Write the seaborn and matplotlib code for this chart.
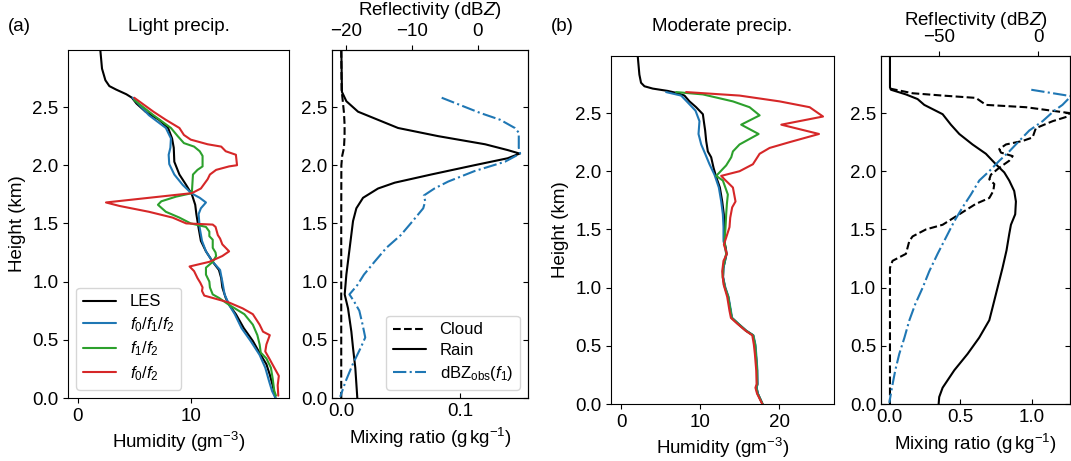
import matplotlib
matplotlib.use("Agg")
import matplotlib.pyplot as plt
import seaborn as sns

# ---------------- (a) light precip : humidity ----------------
les_a_h = [2.99, 2.83, 2.73, 2.68, 2.65, 2.61, 2.58, 2.53, 2.46, 2.39, 2.32, 2.23, 2.15, 2.03, 1.92, 1.83,
           1.75, 1.66, 1.58, 1.46, 1.35, 1.26, 1.17, 1.10, 1.03, 0.95, 0.86, 0.80, 0.72, 0.60, 0.49, 0.37,
           0.29, 0.20, 0.11, 0.0]
les_a_q = [2.0, 2.15, 2.45, 2.8, 3.4, 4.3, 4.8, 5.2, 6.0, 7.2, 8.0, 8.35, 8.5, 8.55, 9.0, 9.6,
           10.1, 10.4, 10.5, 10.7, 10.9, 11.35, 11.95, 12.5, 12.7, 12.8, 13.1, 13.4, 14.0, 14.7, 15.5, 16.2,
           16.7, 17.0, 17.25, 17.5]

f012_a_h = [2.58, 2.43, 2.32, 2.23, 2.15, 2.09, 2.01, 1.92, 1.83, 1.76, 1.72, 1.68, 1.63, 1.58, 1.46, 1.35,
            1.26, 1.17, 1.10, 1.00, 0.89, 0.80, 0.72, 0.60, 0.49, 0.37, 0.26, 0.14, 0.06, 0.0]
f012_a_q = [4.86, 6.3, 7.8, 8.25, 8.2, 8.05, 8.1, 8.55, 9.3, 10.05, 10.8, 11.35, 10.9, 10.7, 10.8, 11.0,
            11.35, 11.95, 12.6, 12.8, 13.0, 13.4, 13.9, 14.5, 15.3, 16.1, 16.6, 16.95, 17.2, 17.5]

f12_a_h = [2.56, 2.43, 2.32, 2.25, 2.19, 2.16, 2.12, 2.08, 1.99, 1.96, 1.92, 1.76, 1.73, 1.69, 1.66, 1.60,
           1.55, 1.50, 1.47, 1.43, 1.39, 1.36, 1.29, 1.25, 1.22, 1.17, 1.12, 1.06, 1.00, 0.95, 0.89, 0.86,
           0.80, 0.72, 0.63, 0.54, 0.46, 0.39, 0.34, 0.26, 0.17, 0.06, 0.02]
f12_a_q = [5.0, 6.7, 8.25, 8.85, 9.4, 10.3, 10.8, 11.05, 11.05, 10.6, 10.2, 10.1, 8.7, 7.4, 7.1, 7.8,
           9.0, 10.0, 11.35, 11.65, 11.65, 11.95, 11.95, 12.2, 12.25, 11.95, 11.35, 11.35, 11.65, 11.7, 11.95, 12.5,
           13.4, 14.75, 15.5, 15.9, 16.1, 16.2, 16.7, 17.1, 17.25, 17.4, 17.55]

f02_a_h = [2.58, 2.46, 2.39, 2.32, 2.26, 2.22, 2.18, 2.16, 2.12, 2.09, 2.00, 1.99, 1.96, 1.92, 1.88, 1.80,
           1.76, 1.72, 1.68, 1.65, 1.60, 1.55, 1.50, 1.49, 1.47, 1.40, 1.37, 1.32, 1.26, 1.22, 1.17, 1.13,
           1.09, 1.03, 0.99, 0.95, 0.92, 0.88, 0.82, 0.77, 0.72, 0.63, 0.57, 0.54, 0.46, 0.40, 0.34, 0.26,
           0.19, 0.11, 0.02]
f02_a_q = [5.0, 6.7, 7.8, 9.0, 9.4, 10.0, 11.5, 12.7, 13.1, 14.0, 14.1, 13.4, 12.25, 11.7, 11.5, 10.9,
           10.1, 6.3, 2.5, 3.7, 6.3, 8.4, 9.6, 11.95, 12.2, 12.4, 12.6, 12.8, 13.4, 12.8, 11.65, 9.9,
           10.3, 10.6, 10.85, 11.05, 11.0, 11.2, 13.4, 14.6, 15.5, 16.1, 16.4, 17.0, 16.7, 16.6, 16.95, 17.4,
           17.8, 17.7, 17.75]

# ---------------- (a) light precip : mixing ratio / reflectivity ----------------
cloud_a_h = [2.99, 2.65, 2.55, 2.45, 2.35, 2.25, 2.15, 2.08, 2.0, 1.5, 1.0, 0.5, 0.0]
cloud_a_q = [0.0002, 0.0005, 0.0015, 0.0025, 0.003, 0.003, 0.0025, 0.001, 0.0003, 0.0002, 0.0002, 0.0002, 0.0002]

rain_a_h = [2.99, 2.63, 2.55, 2.46, 2.39, 2.32, 2.25, 2.18, 2.13, 2.10, 2.06, 2.00, 1.92, 1.85, 1.80, 1.72,
            1.63, 1.52, 1.29, 1.06, 0.89, 0.77, 0.57, 0.43, 0.26, 0.0]
rain_a_q = [0.0003, 0.0008, 0.0045, 0.0143, 0.0311, 0.0479, 0.0815, 0.121, 0.140, 0.150, 0.140, 0.112, 0.0756,
            0.0451, 0.0311, 0.0185, 0.0129, 0.0101, 0.0073, 0.0045, 0.0031, 0.0059, 0.0087, 0.0101, 0.0120, 0.0137]

dbz_a_h = [2.58, 2.45, 2.39, 2.32, 2.28, 2.15, 2.10, 2.03, 1.95, 1.86, 1.80, 1.74, 1.69, 1.63, 1.52, 1.40,
           1.29, 1.17, 1.06, 0.97, 0.89, 0.83, 0.75, 0.63, 0.52, 0.43, 0.29, 0.14, 0.01]
dbz_a = [-5.5, 0.3, 3.4, 5.6, 6.2, 6.2, 6.4, 4.1, -0.5, -4.5, -6.6, -8.2, -8.0, -8.3, -9.9, -11.7,
         -13.9, -15.7, -17.3, -18.3, -19.5, -18.8, -18.0, -17.5, -17.1, -17.8, -19.0, -20.1, -20.9]

# ---------------- (b) moderate precip : humidity ----------------
les_b_h = [2.99, 2.83, 2.76, 2.73, 2.71, 2.69, 2.67, 2.65, 2.60, 2.55, 2.49, 2.43, 2.35, 2.26, 2.17, 2.12,
           2.03, 1.95, 1.86, 1.74, 1.63, 1.52, 1.40, 1.34, 1.29, 1.23, 1.17, 1.09, 1.00, 0.92, 0.80, 0.74,
           0.69, 0.63, 0.59, 0.51, 0.43, 0.29, 0.17, 0.14, 0.09, 0.0]
les_b_q = [2.11, 2.32, 2.53, 2.96, 4.01, 5.91, 7.18, 8.02, 8.66, 9.50, 10.35, 10.47, 10.64, 10.77, 10.98, 11.40,
           11.70, 12.04, 12.5, 12.8, 13.0, 13.05, 13.05, 13.25, 13.35, 13.15, 12.95, 12.9, 13.15, 13.55, 13.85, 14.0,
           14.8, 15.8, 16.7, 16.95, 17.05, 17.2, 17.25, 17.15, 17.3, 17.9]

f012_b_h = [2.68, 2.65, 2.59, 2.52, 2.43, 2.32, 2.23, 2.15, 2.06, 1.97, 1.86, 1.74, 1.63, 1.52, 1.40, 1.34,
            1.29, 1.23, 1.17, 1.09, 1.00, 0.92, 0.80, 0.74, 0.69, 0.63, 0.59, 0.51, 0.43, 0.29, 0.17, 0.14,
            0.09, 0.0]
f012_b_q = [5.70, 7.60, 8.45, 9.42, 9.92, 9.80, 10.14, 10.64, 11.19, 11.82, 12.37, 12.67, 12.88, 12.96, 12.96, 13.2,
            13.3, 13.15, 12.95, 12.9, 13.2, 13.6, 13.9, 14.05, 14.85, 15.85, 16.75, 17.0, 17.1, 17.25, 17.25, 17.15,
            17.3, 17.9]

f12_b_h = [2.68, 2.66, 2.60, 2.55, 2.48, 2.40, 2.32, 2.23, 2.17, 2.12, 2.05, 1.96, 1.92, 1.80, 1.72, 1.63,
           1.52, 1.40, 1.34, 1.29, 1.23, 1.17, 1.09, 1.00, 0.92, 0.80, 0.74, 0.69, 0.63, 0.59, 0.51, 0.43,
           0.29, 0.17, 0.14, 0.09, 0.0]
f12_b_q = [6.97, 10.35, 14.15, 16.26, 17.53, 15.20, 17.40, 14.99, 14.15, 13.94, 13.30, 12.04, 12.88, 13.51, 13.39, 13.30,
           13.22, 13.09, 13.2, 13.3, 13.1, 12.9, 12.85, 13.15, 13.55, 13.85, 14.0, 14.8, 15.8, 16.7, 16.95, 17.05,
           17.2, 17.2, 17.1, 17.25, 17.9]

f02_b_h = [2.68, 2.65, 2.60, 2.55, 2.47, 2.40, 2.32, 2.25, 2.20, 2.15, 2.06, 2.00, 1.96, 1.93, 1.86, 1.74,
           1.69, 1.60, 1.52, 1.43, 1.37, 1.29, 1.23, 1.14, 1.03, 0.92, 0.80, 0.74, 0.69, 0.63, 0.59, 0.51,
           0.43, 0.29, 0.17, 0.14, 0.09, 0.0]
f02_b_q = [8.23, 14.99, 20.06, 23.86, 25.55, 20.27, 25.04, 21.33, 18.79, 17.53, 16.68, 14.99, 12.67, 13.09, 14.15, 14.48,
           14.06, 13.81, 13.72, 13.30, 13.01, 13.39, 12.96, 12.80, 12.96, 13.43, 13.72, 13.9, 14.7, 15.75, 16.6, 16.8,
           16.93, 17.1, 17.15, 17.0, 17.2, 17.86]

# ---------------- (b) moderate precip : mixing ratio / reflectivity ----------------
rain_b_h = [2.99, 2.72, 2.70, 2.66, 2.62, 2.57, 2.49, 2.40, 2.32, 2.23, 2.15, 2.06, 1.99, 1.92, 1.83, 1.74,
            1.63, 1.54, 1.46, 1.32, 1.17, 1.00, 0.83, 0.72, 0.57, 0.43, 0.29, 0.14, 0.06, 0.0]
rain_b_q = [0.005, 0.005, 0.012, 0.117, 0.199, 0.246, 0.375, 0.433, 0.492, 0.585, 0.679, 0.749, 0.808, 0.843, 0.878, 0.890,
            0.885, 0.855, 0.843, 0.824, 0.796, 0.761, 0.726, 0.703, 0.632, 0.550, 0.457, 0.375, 0.351, 0.347]

cloud_b_h = [2.71, 2.67, 2.65, 2.63, 2.57, 2.55, 2.50, 2.47, 2.43, 2.37, 2.29, 2.26, 2.23, 2.19, 2.16, 2.13,
             2.09, 2.03, 1.97, 1.93, 1.89, 1.83, 1.77, 1.72, 1.63, 1.54, 1.50, 1.44, 1.40, 1.29, 1.23, 1.17, 0.0]
cloud_b_q = [0.005, 0.164, 0.375, 0.609, 0.679, 0.960, 1.265, 1.253, 1.148, 1.030, 1.007, 0.937, 0.820, 0.773, 0.785, 0.867,
             0.843, 0.773, 0.714, 0.703, 0.738, 0.731, 0.703, 0.609, 0.492, 0.375, 0.258, 0.164, 0.141, 0.117, 0.023, 0.005, 0.005]

dbz_b_h = [2.70, 2.645, 2.57, 2.52, 2.43, 2.35, 2.26, 2.17, 2.09, 2.00, 1.92, 1.80, 1.69, 1.57, 1.43, 1.29,
           1.14, 1.00, 0.86, 0.72, 0.57, 0.43, 0.29, 0.14, 0.01]
dbz_b = [-3.5, 16.5, 12.2, 8.05, 2.2, -4.5, -9.6, -14.6, -19.6, -24.7, -29.7, -33.9, -38.1, -42.3, -46.5, -50.7,
         -54.9, -58.2, -61.9, -64.9, -67.4, -70.0, -72.0, -73.7, -75.0]

height_ticks = [0.0, 0.5, 1.0, 1.5, 2.0, 2.5]

FS = 13.5
LEG_FS = 12

sns.set_style("ticks")
plt.rcParams['font.family'] = ['Liberation Sans', 'DejaVu Sans']
plt.rcParams['font.size'] = FS
plt.rcParams['mathtext.fontset'] = 'custom'
plt.rcParams['mathtext.rm'] = 'Liberation Sans'
plt.rcParams['mathtext.it'] = 'Liberation Sans:italic'
plt.rcParams['mathtext.bf'] = 'Liberation Sans:bold'
for k in ['axes.edgecolor', 'text.color', 'axes.labelcolor', 'xtick.color', 'ytick.color']:
    plt.rcParams[k] = 'black'

BLUE, GREEN, RED = '#1f77b4', '#2ca02c', '#d62728'


def profile(ax, q, h, **kw):
    sns.lineplot(x=q, y=h, sort=False, estimator=None, ax=ax, **kw)


fig = plt.figure(figsize=(10.71, 4.61), dpi=100)

ax_a1 = fig.add_axes([68 / 1071, 1 - 398 / 461, 221 / 1071, 348 / 461])
ax_a2 = fig.add_axes([332.3 / 1071, 1 - 398 / 461, 195.7 / 1071, 348 / 461])
ax_b1 = fig.add_axes([611 / 1071, 1 - 404 / 461, 222.7 / 1071, 348 / 461])
ax_b2 = fig.add_axes([881 / 1071, 1 - 404 / 461, 189 / 1071, 348 / 461])


def humidity_panel(ax, title, pad, xlim, xticks, les, f012, f12, f02, legend):
    profile(ax, les[0], les[1], color='black', label='LES')
    profile(ax, f012[0], f012[1], color=BLUE, label=r'$f_0/f_1/f_2$')
    profile(ax, f12[0], f12[1], color=GREEN, label=r'$f_1/f_2$')
    profile(ax, f02[0], f02[1], color=RED, label=r'$f_0/f_2$')
    ax.set_xlim(*xlim)
    ax.set_ylim(0, 2.99)
    ax.set_xticks(xticks)
    ax.set_yticks(height_ticks)
    ax.set_xlabel(r'Humidity (gm$^{-3}$)')
    ax.set_ylabel('Height (km)')
    ax.set_title(title, fontsize=FS, pad=pad)
    if legend:
        ax.legend(loc='lower left', fontsize=LEG_FS, labelspacing=0.35)
    elif ax.get_legend() is not None:
        ax.get_legend().remove()


def mixing_panel(ax, xlim, xticks, dlim, dticks, cloud, rain, dbz, legend, labelpad):
    profile(ax, cloud[0], cloud[1], color='black', linestyle='--', label='Cloud')
    profile(ax, rain[0], rain[1], color='black', label='Rain')
    ax.set_xlim(*xlim)
    ax.set_ylim(0, 2.99)
    ax.set_xticks(xticks)
    ax.set_yticks(height_ticks)
    ax.set_xlabel(r'Mixing ratio (g$\,$kg$^{-1}$)')
    ax.set_ylabel('')
    ax.tick_params(axis='both', direction='in')
    ax.tick_params(axis='y', right=True)
    if ax.get_legend() is not None:
        ax.get_legend().remove()
    tw = ax.twiny()
    profile(tw, dbz[0], dbz[1], color=BLUE, linestyle='-.', label=r'dBZ$_{\mathrm{obs}}$($f_1$)')
    tw.set_xlim(*dlim)
    tw.set_xticks(dticks)
    tw.set_xlabel(r'Reflectivity (dB$Z$)', labelpad=labelpad)
    ax.set_ylim(0, 2.99)
    h1, l1 = ax.get_legend_handles_labels()
    h2, l2 = tw.get_legend_handles_labels()
    if legend:
        tw.legend(h1 + h2, l1 + l2, loc='lower right', fontsize=LEG_FS, labelspacing=0.35)
    elif tw.get_legend() is not None:
        tw.get_legend().remove()


humidity_panel(ax_a1, 'Light precip.', 13.5, (-0.86, 18.7), [0, 10],
               (les_a_q, les_a_h), (f012_a_q, f012_a_h), (f12_a_q, f12_a_h), (f02_a_q, f02_a_h), True)
mixing_panel(ax_a2, (-0.0073, 0.157), [0.0, 0.1], (-22.1, 7.6), [-20, -10, 0],
             (cloud_a_q, cloud_a_h), (rain_a_q, rain_a_h), (dbz_a, dbz_a_h), True, 6)
humidity_panel(ax_b1, 'Moderate precip.', 18, (-1.27, 26.9), [0, 10, 20],
               (les_b_q, les_b_h), (f012_b_q, f012_b_h), (f12_b_q, f12_b_h), (f02_b_q, f02_b_h), False)
mixing_panel(ax_b2, (-0.058, 1.27), [0.0, 0.5, 1.0], (-79.2, 16.0), [-50, 0],
             (cloud_b_q, cloud_b_h), (rain_b_q, rain_b_h), (dbz_b, dbz_b_h), False, 3)

fig.text(8 / 1071, 1 - 31 / 461, '(a)', fontsize=FS, va='baseline')
fig.text(551 / 1071, 1 - 31 / 461, '(b)', fontsize=FS, va='baseline')

fig.savefig('out.png', dpi=100)
